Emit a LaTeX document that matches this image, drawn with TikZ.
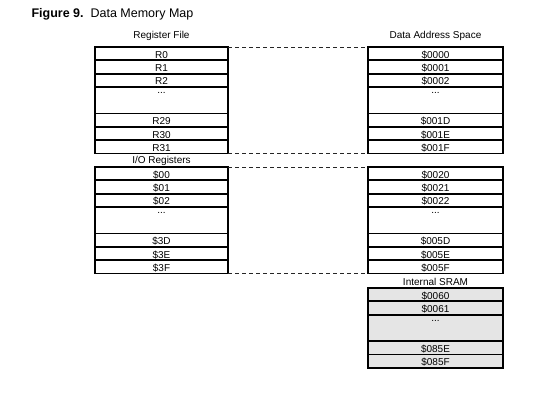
\documentclass[tikz,border=0pt]{standalone}
\usepackage{fontspec}
\setmainfont{Liberation Sans}
\usetikzlibrary{positioning}

\begin{document}
\begin{tikzpicture}[x=1pt,y=-1pt,node distance=0pt
        ,cell/.style = {draw=black,line width=1.8pt,rectangle,minimum height=13.3pt,
                        inner sep=0pt,outer sep=0pt,text height=9.4pt,text depth=0pt,
                        font=\fontsize{10}{11}\selectfont}
        ,lcell/.style = {cell,minimum width=133pt}
        ,rcell/.style = {cell,minimum width=135pt}
        ,gap/.style = {minimum height=26.6pt,text height=2pt,text depth=15pt}
        ,sram/.style = {fill=black!10}
        ,head/.style = {anchor=base,font=\fontsize{10}{12}\selectfont}
        ,link/.style = {thin,black!85,dash pattern=on 4pt off 3pt}
      ]
      \useasboundingbox (0,0) rectangle (540,400);

      \node[anchor=base west,font=\fontsize{12.5}{14}\selectfont] (title) at (28,17.3)
        {\textbf{Figure 9.}\ \ Data Memory Map};

      % register file
      \node[lcell,anchor=north] (r0) at (161.5,47) {R0};
      \node[lcell,below=of r0] (r1) {R1};
      \node[lcell,below=of r1] (r2) {R2};
      \node[lcell,gap,below=of r2] (rdots) {...};
      \node[lcell,below=of rdots] (r29) {R29};
      \node[lcell,below=of r29] (r30) {R30};
      \node[lcell,below=of r30] (r31) {R31};
      \node[head] (regfile) at ([yshift=8.5pt]r0.north) {Register File};

      % I/O registers
      \node[lcell,anchor=north] (io00) at (161.5,167) {\$00};
      \node[lcell,below=of io00] (io01) {\$01};
      \node[lcell,below=of io01] (io02) {\$02};
      \node[lcell,gap,below=of io02] (iodots) {...};
      \node[lcell,below=of iodots] (io3D) {\$3D};
      \node[lcell,below=of io3D] (io3E) {\$3E};
      \node[lcell,below=of io3E] (io3F) {\$3F};
      \node[head] (ioreg) at ([yshift=3.5pt]io00.north) {I/O Registers};

      % data address space
      \node[rcell,anchor=north] (a00) at (435.5,47) {\$0000};
      \node[rcell,below=of a00] (a01) {\$0001};
      \node[rcell,below=of a01] (a02) {\$0002};
      \node[rcell,gap,below=of a02] (adots) {...};
      \node[rcell,below=of adots] (a1D) {\$001D};
      \node[rcell,below=of a1D] (a1E) {\$001E};
      \node[rcell,below=of a1E] (a1F) {\$001F};
      \node[head] (dataspace) at ([yshift=8.5pt]a00.north) {Data Address Space};

      \node[rcell,anchor=north] (a20) at (435.5,167) {\$0020};
      \node[rcell,below=of a20] (a21) {\$0021};
      \node[rcell,below=of a21] (a22) {\$0022};
      \node[rcell,gap,below=of a22] (mdots) {...};
      \node[rcell,below=of mdots] (a5D) {\$005D};
      \node[rcell,below=of a5D] (a5E) {\$005E};
      \node[rcell,below=of a5E] (a5F) {\$005F};

      % internal SRAM
      \node[rcell,sram,anchor=north] (s60) at (435.5,288) {\$0060};
      \node[rcell,sram,below=of s60] (s61) {\$0061};
      \node[rcell,sram,gap,below=of s61] (sdots) {...};
      \node[rcell,sram,below=of sdots] (s85E) {\$085E};
      \node[rcell,sram,below=of s85E] (s85F) {\$085F};
      \node[head] (sram) at ([yshift=2.5pt]s60.north) {Internal SRAM};

      \draw[link] (r0.north east) -- (a00.north west);
      \draw[link] (r31.south east) -- (a1F.south west);
      \draw[link] (io00.north east) -- (a20.north west);
      \draw[link] (io3F.south east) -- (a5F.south west);
    \end{tikzpicture}
\end{document}
